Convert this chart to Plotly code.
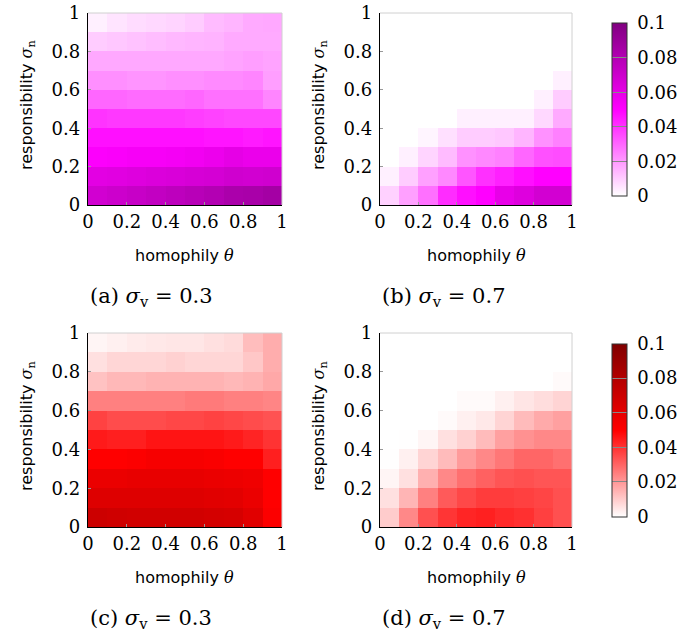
import plotly.graph_objects as go

theta = [0.05, 0.15, 0.25, 0.35, 0.45, 0.55, 0.65, 0.75, 0.85, 0.95]
sigma_n = [0.05, 0.15, 0.25, 0.35, 0.45, 0.55, 0.65, 0.75, 0.85, 0.95]
tick_vals = [0, 0.2, 0.4, 0.6, 0.8, 1]
tick_text = ["0", "0.2", "0.4", "0.6", "0.8", "1"]
cbar_vals = [0, 0.02, 0.04, 0.06, 0.08, 0.1]
cbar_text = ["0", "0.02", "0.04", "0.06", "0.08", "0.1"]

# rows listed bottom (sigma_n = 0.05) to top (sigma_n = 0.95)
z_a = [
    [0.068, 0.070, 0.072, 0.074, 0.076, 0.078, 0.080, 0.083, 0.084, 0.086],
    [0.061, 0.062, 0.063, 0.064, 0.065, 0.066, 0.067, 0.069, 0.068, 0.069],
    [0.051, 0.052, 0.053, 0.053, 0.054, 0.055, 0.057, 0.060, 0.058, 0.058],
    [0.047, 0.047, 0.047, 0.047, 0.047, 0.047, 0.046, 0.046, 0.045, 0.046],
    [0.040, 0.039, 0.039, 0.039, 0.039, 0.038, 0.037, 0.036, 0.036, 0.036],
    [0.030, 0.030, 0.029, 0.029, 0.029, 0.030, 0.028, 0.028, 0.028, 0.024],
    [0.022, 0.022, 0.021, 0.021, 0.022, 0.022, 0.023, 0.023, 0.024, 0.019],
    [0.017, 0.017, 0.017, 0.017, 0.017, 0.017, 0.017, 0.018, 0.019, 0.018],
    [0.010, 0.011, 0.012, 0.013, 0.014, 0.0145, 0.015, 0.0167, 0.0167, 0.0167],
    [0.003, 0.0053, 0.0069, 0.0076, 0.0084, 0.010, 0.0133, 0.0145, 0.0167, 0.017],
]
z_b = [
    [0.009, 0.0186, 0.028, 0.0414, 0.047, 0.050, 0.059, 0.063, 0.0677, 0.0677],
    [0.003, 0.010, 0.0186, 0.0233, 0.0333, 0.0406, 0.0437, 0.047, 0.050, 0.050],
    [0.0, 0.003, 0.0084, 0.0133, 0.0216, 0.0233, 0.025, 0.030, 0.0343, 0.035],
    [0.0, 0.0, 0.002, 0.006, 0.010, 0.010, 0.011, 0.0145, 0.0216, 0.025],
    [0.0, 0.0, 0.0, 0.0, 0.003, 0.003, 0.003, 0.003, 0.0076, 0.0167],
    [0.0, 0.0, 0.0, 0.0, 0.0, 0.0, 0.0, 0.0, 0.003, 0.010],
    [0.0, 0.0, 0.0, 0.0, 0.0, 0.0, 0.0, 0.0, 0.0, 0.003],
    [0.0, 0.0, 0.0, 0.0, 0.0, 0.0, 0.0, 0.0, 0.0, 0.0],
    [0.0, 0.0, 0.0, 0.0, 0.0, 0.0, 0.0, 0.0, 0.0, 0.0],
    [0.0, 0.0, 0.0, 0.0, 0.0, 0.0, 0.0, 0.0, 0.0, 0.0],
]
z_c = [
    [0.070, 0.069, 0.068, 0.068, 0.068, 0.068, 0.067, 0.066, 0.062, 0.051],
    [0.063, 0.063, 0.063, 0.063, 0.063, 0.063, 0.062, 0.061, 0.058, 0.050],
    [0.058, 0.058, 0.059, 0.059, 0.059, 0.059, 0.058, 0.057, 0.056, 0.050],
    [0.050, 0.050, 0.051, 0.053, 0.053, 0.053, 0.052, 0.050, 0.050, 0.044],
    [0.045, 0.044, 0.044, 0.046, 0.046, 0.046, 0.046, 0.045, 0.043, 0.040],
    [0.037, 0.035, 0.035, 0.035, 0.036, 0.036, 0.037, 0.036, 0.035, 0.034],
    [0.025, 0.025, 0.025, 0.025, 0.025, 0.026, 0.026, 0.025, 0.025, 0.024],
    [0.012, 0.014, 0.014, 0.015, 0.015, 0.015, 0.015, 0.014, 0.015, 0.017],
    [0.006, 0.008, 0.008, 0.008, 0.009, 0.008, 0.008, 0.008, 0.011, 0.016],
    [0.002, 0.003, 0.004, 0.0045, 0.005, 0.005, 0.006, 0.007, 0.013, 0.016],
]
z_d = [
    [0.010, 0.0233, 0.0343, 0.0396, 0.0427, 0.0437, 0.0418, 0.0406, 0.0375, 0.0343],
    [0.006, 0.0145, 0.025, 0.0324, 0.0359, 0.0382, 0.0382, 0.0375, 0.0365, 0.0343],
    [0.002, 0.006, 0.0155, 0.0233, 0.028, 0.031, 0.0333, 0.0343, 0.0333, 0.0333],
    [0.0002, 0.003, 0.0084, 0.0133, 0.0196, 0.0233, 0.0267, 0.030, 0.030, 0.028],
    [0.0, 0.0002, 0.002, 0.006, 0.009, 0.0133, 0.0186, 0.0216, 0.0233, 0.0233],
    [0.0, 0.0, 0.0, 0.001, 0.003, 0.0045, 0.0084, 0.0133, 0.0167, 0.0186],
    [0.0, 0.0, 0.0, 0.0, 0.001, 0.001, 0.003, 0.0051, 0.0067, 0.0084],
    [0.0, 0.0, 0.0, 0.0, 0.0, 0.0, 0.0, 0.0, 0.0, 0.001],
    [0.0, 0.0, 0.0, 0.0, 0.0, 0.0, 0.0, 0.0, 0.0, 0.0],
    [0.0, 0.0, 0.0, 0.0, 0.0, 0.0, 0.0, 0.0, 0.0, 0.0],
]
captions = ["(a) ", "(b) ", "(c) ", "(d) "]
sigma_v = ["0.3", "0.7", "0.3", "0.7"]

W, H = 688, 641
SERIF = "DejaVu Serif"
SANS = "DejaVu Sans"


def px(x):
    return x / W


def py(y):
    return 1 - y / H


# panel boxes in window pixels: (left, right, top, bottom)
boxes = [(88, 282, 13, 205), (380, 572, 13, 205), (88, 282, 333, 527), (380, 572, 333, 527)]

magenta = [[0, "#ffffff"], [0.5, "#ff00ff"], [1, "#800080"]]
red = [[0, "#ffffff"], [0.5, "#ff0000"], [1, "#800000"]]

fig = go.Figure()
zs = [z_a, z_b, z_c, z_d]
cax = ["coloraxis", "coloraxis", "coloraxis2", "coloraxis2"]
for i, z in enumerate(zs):
    sfx = "" if i == 0 else str(i + 1)
    fig.add_trace(go.Heatmap(x=theta, y=sigma_n, z=z, coloraxis=cax[i],
                             xaxis="x" + sfx, yaxis="y" + sfx, zsmooth=False,
                             hoverinfo="skip"))

layout = dict(width=W, height=H, margin=dict(l=0, r=0, t=0, b=0, autoexpand=False),
              paper_bgcolor="white", plot_bgcolor="white", showlegend=False)

axis_common = dict(range=[0, 1], tickvals=tick_vals, ticktext=tick_text,
                   showline=True, linecolor="black", linewidth=1.2,
                   ticks="inside", ticklen=3, tickcolor="#999",
                   showgrid=False, zeroline=False, fixedrange=True,
                   ticklabeloverflow="allow",
                   tickfont=dict(family=SERIF, size=18, color="black"))

shapes = []
annotations = []
for i, (l, r, t, b) in enumerate(boxes):
    sfx = "" if i == 0 else str(i + 1)
    layout["xaxis" + sfx] = dict(axis_common, domain=[px(l), px(r)], anchor="y" + sfx)
    layout["yaxis" + sfx] = dict(axis_common, domain=[py(b), py(t)], anchor="x" + sfx,
                                 ticklabelstandoff=3)
    xr = "x" + sfx + " domain"
    yr = "y" + sfx + " domain"
    shapes.append(dict(type="line", xref=xr, yref=yr, x0=0, x1=1, y0=1, y1=1,
                       line=dict(color="#d0d0d0", width=1)))
    shapes.append(dict(type="line", xref=xr, yref=yr, x0=1, x1=1, y0=0, y1=1,
                       line=dict(color="#d0d0d0", width=1)))
    cx = (l + r) / 2
    # x-axis title
    annotations.append(dict(x=px(cx), y=py(b + 50), xref="paper", yref="paper",
                            text="homophily <i><span style='font-family:%s'>θ</span></i>" % SERIF,
                            showarrow=False, font=dict(family=SANS, size=16, color="black"),
                            xanchor="center", yanchor="middle"))
    # y-axis title
    annotations.append(dict(x=px(l - 61), y=py((t + b) / 2 - 4), xref="paper", yref="paper",
                            text="responsibility <i><span style='font-family:%s'>σ</span></i><sub><span style='font-family:%s'>n</span></sub>" % (SERIF, SERIF),
                            showarrow=False, textangle=-90,
                            font=dict(family=SANS, size=16, color="black"),
                            xanchor="center", yanchor="middle"))
    # caption
    annotations.append(dict(x=px(l), y=py(b + 92), xref="paper", yref="paper",
                            text=captions[i] + "<i>σ</i><sub>v</sub> = " + sigma_v[i],
                            showarrow=False, font=dict(family=SERIF, size=21, color="black"),
                            xanchor="left", yanchor="middle"))

cb_common = dict(thickness=15, thicknessmode="pixels", len=193, lenmode="pixels",
                 x=px(602), xanchor="left", yanchor="middle",
                 tickvals=cbar_vals, ticktext=["\u00a0" + t for t in cbar_text],
                 ticks="inside", ticklen=15,
                 tickcolor="#888", tickwidth=1, outlinecolor="#333", outlinewidth=1,
                 tickfont=dict(family=SERIF, size=18, color="black"))
layout["coloraxis"] = dict(cmin=0, cmax=0.1, colorscale=magenta,
                           colorbar=dict(cb_common, y=py(109.5)))
layout["coloraxis2"] = dict(cmin=0, cmax=0.1, colorscale=red,
                            colorbar=dict(cb_common, y=py(430)))
layout["shapes"] = shapes
layout["annotations"] = annotations
fig.update_layout(**layout)
fig.write_html("out.html", config={"displayModeBar": False, "staticPlot": True},
               post_script="document.body.style.margin='0';document.body.style.overflow='hidden';")
